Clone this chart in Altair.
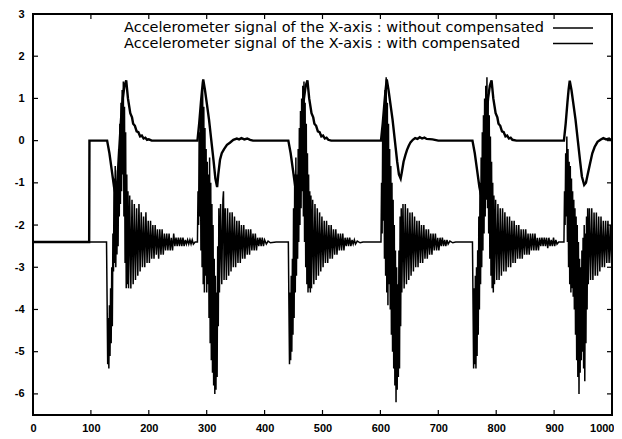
import altair as alt
import pandas as pd

# ---------------- data ----------------
x_ticks = [0, 100, 200, 300, 400, 500, 600, 700, 800, 900, 1000]
y_ticks = [-6, -5, -4, -3, -2, -1, 0, 1, 2, 3]
legend_labels = [
    "Accelerometer signal of the X-axis : without compensated",
    "Accelerometer signal of the X-axis : with compensated",
]

# uncompensated signal (gravity offset about -2.4)
unc_rest = [(0, -2.4), (127, -2.4)]
unc_a1 = [(128,-3.8),(129,-5.3),(130,-4.2),(131,-5.4),(132,-3.9),(133,-5.1),(134,-3.5),(135,-4.8),(136,-3.0),(137,-4.4),
          (138,-2.2),(139,-3.1),(140,-0.9),(141,-2.9),(142,-0.6),(143,-3.0),(144,-1.0),(145,-2.7),(146,-0.7),(147,-2.5),
          (148,-0.2),(149,-1.8),(150,0.4),(151,-1.5),(152,0.9),(153,-1.2),(154,1.2),(155,-0.8),(156,1.4),(157,-1.8),
          (158,0.8),(159,-2.9),(160,0.2),(161,-3.5),(162,-0.8),(163,-3.4),(164,-1.2),(165,-3.5),
          (167,-1.3),(169,-3.5),(171,-1.4),(173,-3.4),(175,-1.5),(177,-3.3),(179,-1.6),(181,-3.2),(183,-1.5),(185,-3.1),
          (187,-1.7),(189,-3.0),(191,-1.8),(193,-3.0),(195,-1.7),(197,-2.9),(199,-1.9),(201,-2.9),(203,-1.9),(205,-2.8),
          (207,-2.0),(209,-2.8),(211,-2.0),(213,-2.7),(215,-2.1),(217,-2.8),(219,-2.1),(221,-2.7),(223,-2.1),(225,-2.7),
          (227,-2.2),(229,-2.6),(231,-2.2),(233,-2.6),(235,-2.2),(237,-2.6),(239,-2.3),(241,-2.6),(243,-2.2),(245,-2.5),
          (247,-2.3),(249,-2.5),(251,-2.3),(253,-2.5),(255,-2.3),(257,-2.5),(259,-2.3),(261,-2.5),(263,-2.35),(265,-2.45),
          (267,-2.35),(269,-2.45),(271,-2.35),(273,-2.45),(275,-2.35),(277,-2.45),(280,-2.4),(284,-2.4)]
unc_b1 = [(285,-1.2),(286,-2.0),(287,0.2),(288,-1.8),(289,0.6),(290,-2.6),(291,1.0),(292,-3.0),(293,1.4),(294,-3.4),
          (295,0.8),(296,-3.6),(297,0.3),(298,-3.2),(299,-0.2),(300,-3.6),(301,-0.5),(302,-3.4),(303,-0.8),(304,-4.2),
          (305,-0.4),(306,-4.8),(307,-1.0),(308,-5.2),(309,-1.5),(310,-5.5),(311,-2.0),(312,-5.8),(313,-2.8),(314,-6.0),
          (315,-3.2),(316,-5.9),(317,-3.6),(318,-5.6),(319,-2.5),(320,-4.4),(321,-1.6),(322,-3.6),
          (324,-1.5),(326,-3.4),(328,-1.4),(329,-1.2),(330,-3.3),(332,-1.6),(334,-3.3),(336,-1.6),(338,-3.2),(340,-1.7),
          (342,-3.1),(344,-1.7),(346,-3.0),(348,-1.8),(350,-3.0),(352,-1.9),(354,-2.9),(356,-1.9),(358,-2.9),(360,-2.0),
          (362,-2.8),(364,-2.0),(366,-2.8),(368,-2.1),(370,-2.7),(372,-2.1),(374,-2.7),(376,-2.1),(378,-2.6),(380,-2.2),
          (382,-2.6),(384,-2.2),(386,-2.6),(388,-2.3),(390,-2.5),(392,-2.3),(394,-2.5),(396,-2.3),(398,-2.5),(400,-2.35),
          (403,-2.45),(406,-2.38),(410,-2.42),(420,-2.4),(441,-2.4)]
unc_a2 = [(442,-3.9),(443,-5.3),(444,-3.6),(445,-5.2),(446,-3.2),(447,-5.0),(448,-2.8),(449,-4.6),(450,-1.6),(451,-4.2),
          (452,-0.8),(453,-3.6),(454,-0.4),(455,-3.2),(456,-0.8),(457,-2.8),(458,-0.2),(459,-2.4),(460,0.3),(461,-2.0),
          (462,0.7),(463,-1.6),(464,1.0),(465,-1.2),(466,1.3),(467,-1.8),(468,1.4),(469,-2.4),(470,0.9),(471,-3.0),
          (472,0.4),(473,-3.4),(474,-0.3),(475,-3.6),(476,-0.8),(477,-3.5),(478,-1.2),(479,-3.6),(480,-1.3),(481,-3.5),
          (483,-1.4),(485,-3.4),(487,-1.5),(489,-3.3),(491,-1.6),(493,-3.2),(495,-1.7),(497,-3.1),(499,-1.8),(501,-3.0),
          (503,-1.9),(505,-2.9),(507,-1.9),(509,-2.9),(511,-2.0),(513,-2.8),(515,-2.0),(517,-2.8),(519,-2.1),(521,-2.7),
          (523,-2.1),(525,-2.7),(527,-2.2),(529,-2.6),(531,-2.2),(533,-2.6),(535,-2.2),(537,-2.6),(539,-2.3),(541,-2.5),
          (543,-2.3),(545,-2.5),(547,-2.3),(549,-2.5),(551,-2.35),(553,-2.45),(555,-2.35),(557,-2.45),(560,-2.38),
          (565,-2.42),(570,-2.4),(601,-2.4)]
unc_b2 = [(602,-1.0),(603,-2.2),(604,0.3),(605,-1.9),(606,0.8),(607,-2.8),(608,1.2),(609,-3.2),(610,1.5),(611,-3.6),
          (612,0.9),(613,-3.9),(614,0.4),(615,-3.4),(616,-0.2),(617,-4.0),(618,-0.6),(619,-4.6),(620,-1.0),(621,-5.0),
          (622,-1.4),(623,-5.4),(624,-2.0),(625,-5.8),(626,-2.6),(627,-6.2),(628,-3.0),(629,-5.9),(630,-3.4),(631,-5.6),
          (632,-2.6),(633,-5.4),(634,-1.8),(635,-4.4),(636,-1.6),(637,-3.6),
          (639,-1.5),(641,-3.5),(643,-1.5),(645,-3.4),(647,-1.6),(649,-3.3),(651,-1.7),(653,-3.2),(655,-1.7),(657,-3.1),
          (659,-1.8),(661,-3.0),(663,-1.9),(665,-3.0),(667,-1.9),(669,-2.9),(671,-2.0),(673,-2.9),(675,-2.0),(677,-2.8),
          (679,-2.1),(681,-2.8),(683,-2.1),(685,-2.7),(687,-2.2),(689,-2.7),(691,-2.2),(693,-2.6),(695,-2.2),(697,-2.6),
          (699,-2.3),(701,-2.6),(703,-2.3),(705,-2.5),(707,-2.3),(709,-2.5),(711,-2.35),(713,-2.5),(715,-2.35),
          (717,-2.45),(720,-2.38),(725,-2.42),(730,-2.4),(759,-2.4)]
unc_a3 = [(760,-3.9),(761,-5.4),(762,-3.5),(763,-5.3),(764,-3.2),(765,-5.4),(766,-3.0),(767,-5.1),(768,-2.6),(769,-4.6),
          (770,-1.8),(771,-4.0),(772,-1.0),(773,-3.4),(774,-0.4),(775,-3.0),(776,0.2),(777,-2.6),(778,0.6),(779,-2.2),
          (780,1.0),(781,-1.8),(782,1.3),(783,-1.4),(784,1.5),(785,-1.6),(786,1.1),(787,-2.2),(788,0.6),(789,-2.8),
          (790,0.1),(791,-3.2),(792,-0.5),(793,-3.5),(794,-1.0),(795,-3.6),(796,-1.3),(797,-3.4),
          (799,-1.4),(801,-3.3),(803,-1.5),(805,-3.3),(807,-1.6),(809,-3.2),(811,-1.6),(813,-3.1),(815,-1.7),(817,-3.1),
          (819,-1.8),(821,-3.0),(823,-1.8),(825,-3.0),(827,-1.9),(829,-2.9),(831,-1.9),(833,-2.9),(835,-2.0),(837,-2.8),
          (839,-2.0),(841,-2.8),(843,-2.1),(845,-2.8),(847,-2.1),(849,-2.7),(851,-2.1),(853,-2.7),(855,-2.2),(857,-2.7),
          (859,-2.2),(861,-2.6),(863,-2.2),(865,-2.6),(867,-2.2),(869,-2.6),(871,-2.3),(873,-2.6),(875,-2.3),(877,-2.5),
          (879,-2.3),(881,-2.5),(883,-2.3),(885,-2.5),(887,-2.3),(889,-2.55),(891,-2.3),(893,-2.5),(895,-2.35),
          (897,-2.5),(899,-2.3),(901,-2.5),(903,-2.35),(905,-2.45),(908,-2.4),(917,-2.4)]
unc_b3 = [(918,-1.2),(919,-2.0),(920,-0.3),(921,-1.8),(922,0.1),(923,-2.4),(924,-0.2),(925,-3.0),(926,-0.5),(927,-3.4),
          (928,-0.6),(929,-3.6),(930,-0.9),(931,-3.5),(932,-1.2),(933,-3.7),(934,-1.4),(935,-4.0),(936,-1.6),(937,-4.6),
          (938,-1.8),(939,-5.2),(940,-2.0),(941,-5.6),(942,-2.4),(943,-6.0),(944,-2.8),(945,-5.5),(946,-3.0),(947,-5.2),
          (948,-2.6),(949,-5.0),(950,-2.3),(951,-5.4),(952,-2.0),(953,-5.7),(954,-2.2),(955,-4.8),(956,-1.8),(957,-4.0),
          (958,-1.6),(959,-3.4),
          (961,-1.6),(963,-3.3),(965,-1.6),(967,-3.3),(969,-1.7),(971,-3.2),(973,-1.7),(975,-3.2),(977,-1.8),(979,-3.1),
          (981,-1.8),(983,-3.0),(985,-1.9),(987,-3.0),(989,-1.9),(991,-2.9),(993,-1.9),(995,-2.9),(997,-2.0),(999,-2.9),
          (1000,-2.4)]

# compensated signal (rests at 0)
cmp_start = [(0, -2.4), (97, -2.4), (97.5, 0.0), (128, 0.0)]
cmp_a1 = [(132,-0.3),(136,-0.7),(140,-1.1),(143,-1.3),(146,-0.9),(149,-0.2),(152,0.5),(155,1.0),(158,1.3),(161,1.43),
          (164,1.0),(168,0.65),(171,0.55),(173,0.4),(176,0.35),(179,0.22),(182,0.2),(185,0.1),(188,0.12),(191,0.05),
          (194,0.07),(197,0.02),(200,0.03),(205,0.0),(284,0.0)]
cmp_b1 = [(287,0.4),(290,0.9),(292,1.2),(294,1.45),(297,1.2),(300,0.9),(304,0.5),(308,0.0),(312,-0.5),(315,-0.9),
          (318,-1.1),(320,-0.8),(323,-0.45),(326,-0.3),(330,-0.2),(335,-0.1),(340,-0.05),(346,0.02),(352,0.05),
          (356,0.03),(360,0.06),(365,0.03),(370,0.05),(375,0.02),(380,0.0),(441,0.0)]
cmp_a2 = [(445,-0.3),(449,-0.7),(453,-1.1),(456,-1.35),(459,-0.9),(462,-0.2),(465,0.5),(468,1.0),(471,1.3),(474,1.43),
          (477,1.0),(481,0.65),(484,0.55),(486,0.4),(489,0.35),(492,0.22),(495,0.2),(498,0.1),(501,0.12),(504,0.05),
          (507,0.07),(510,0.02),(515,0.0),(601,0.0)]
cmp_b2 = [(604,0.4),(607,0.9),(609,1.2),(611,1.45),(614,1.2),(617,0.9),(621,0.5),(625,0.0),(629,-0.5),(632,-0.8),
          (635,-0.9),(637,-0.75),(640,-0.5),(643,-0.35),(646,-0.22),(649,-0.12),(652,-0.04),(656,0.02),(660,0.06),
          (664,0.04),(668,0.08),(672,0.05),(676,0.07),(680,0.04),(690,0.03),(700,0.0),(759,0.0)]
cmp_a3 = [(763,-0.3),(767,-0.7),(771,-1.1),(774,-1.3),(777,-0.9),(780,-0.2),(783,0.5),(786,1.0),(789,1.3),(792,1.43),
          (795,1.0),(799,0.65),(802,0.55),(804,0.4),(807,0.35),(810,0.22),(813,0.2),(816,0.1),(819,0.12),(822,0.05),
          (825,0.07),(828,0.02),(835,0.0),(917,0.0)]
cmp_b3 = [(920,0.4),(923,0.9),(925,1.2),(927,1.42),(930,1.2),(933,0.9),(937,0.5),(941,0.0),(945,-0.5),(948,-0.85),
          (952,-1.05),(955,-1.0),(958,-0.8),(962,-0.55),(966,-0.3),(970,-0.15),(975,-0.03),(980,0.02),(985,0.06),
          (990,0.03),(995,0.05),(1000,0.0)]

# ---------------- build tables ----------------
unc = unc_rest + unc_a1 + unc_b1 + unc_a2 + unc_b2 + unc_a3 + unc_b3
cmp_ = cmp_start + cmp_a1 + cmp_b1 + cmp_a2 + cmp_b2 + cmp_a3 + cmp_b3
df_unc = pd.DataFrame(unc, columns=["t", "v"])
df_cmp = pd.DataFrame(cmp_, columns=["t", "v"])

W, H = 579, 401
FONT = "Liberation Sans"
KEY_FONT = "DejaVu Sans"

xscale = alt.Scale(domain=[0, 1000], nice=False, zero=False)
yscale = alt.Scale(domain=[-6.5, 3], nice=False, zero=False)

xaxis = alt.Axis(values=x_ticks, ticks=False, domain=False, grid=False, title=None,
                 labelFont=FONT, labelFontWeight="bold", labelFontSize=11, labelColor="black",
                 labelPadding=7, labelExpr="'' + datum.value",
                 labelAlign={"condition": {"test": "datum.value == 1000", "value": "right"}, "value": "center"},
                 labelOffset={"condition": {"test": "datum.value == 1000", "value": 2}, "value": 0})
yaxis = alt.Axis(values=y_ticks, ticks=False, domain=False, grid=False, title=None,
                 labelFont=FONT, labelFontWeight="bold", labelFontSize=11, labelColor="black",
                 labelPadding=9, labelExpr="'' + datum.value")

line_unc = alt.Chart(df_unc).mark_line(color="black", strokeWidth=1.5, interpolate="linear").encode(
    x=alt.X("t:Q", scale=xscale, axis=xaxis),
    y=alt.Y("v:Q", scale=yscale, axis=yaxis),
    order="t:Q",
)
line_cmp = alt.Chart(df_cmp).mark_line(color="black", strokeWidth=2.4).encode(
    x=alt.X("t:Q", scale=xscale, axis=xaxis),
    y=alt.Y("v:Q", scale=yscale, axis=yaxis),
    order="t:Q",
)

# inward ticks on all four sides
df_xt = pd.DataFrame({"t": x_ticks})
df_yt = pd.DataFrame({"v": y_ticks})
tick_b = alt.Chart(df_xt).mark_rule(color="black", strokeWidth=1.2).encode(
    x=alt.X("t:Q", scale=xscale, axis=xaxis), y=alt.value(H), y2=alt.value(H - 5))
tick_t = alt.Chart(df_xt).mark_rule(color="black", strokeWidth=1.2).encode(
    x=alt.X("t:Q", scale=xscale, axis=xaxis), y=alt.value(0), y2=alt.value(5))
tick_l = alt.Chart(df_yt).mark_rule(color="black", strokeWidth=1.2).encode(
    y=alt.Y("v:Q", scale=yscale, axis=yaxis), x=alt.value(0), x2=alt.value(5))
tick_r = alt.Chart(df_yt).mark_rule(color="black", strokeWidth=1.2).encode(
    y=alt.Y("v:Q", scale=yscale, axis=yaxis), x=alt.value(W), x2=alt.value(W - 5))

# key (top right, inside the frame)
def key_row(i, ypix):
    d = pd.DataFrame({"label": [legend_labels[i]]})
    txt = alt.Chart(d).mark_text(align="left", baseline="middle", font=KEY_FONT, fontSize=14.5,
                                 color="black").encode(
        text="label:N", x=alt.value(91), y=alt.value(ypix))
    sample = alt.Chart(d).mark_rule(color="black", strokeWidth=1.3).encode(
        x=alt.value(520), x2=alt.value(560), y=alt.value(ypix))
    return txt + sample

chart = alt.layer(
    line_unc, line_cmp, tick_b, tick_t, tick_l, tick_r, key_row(0, 14), key_row(1, 29.5)
).properties(
    width=W, height=H,
    autosize=alt.AutoSizeParams(type="none"),
    padding={"left": 25, "top": 6, "right": 2, "bottom": 17},
    background="white",
).configure_view(stroke="black", strokeWidth=2)

chart.save("out.html", embed_options={"renderer": "svg", "actions": False})
